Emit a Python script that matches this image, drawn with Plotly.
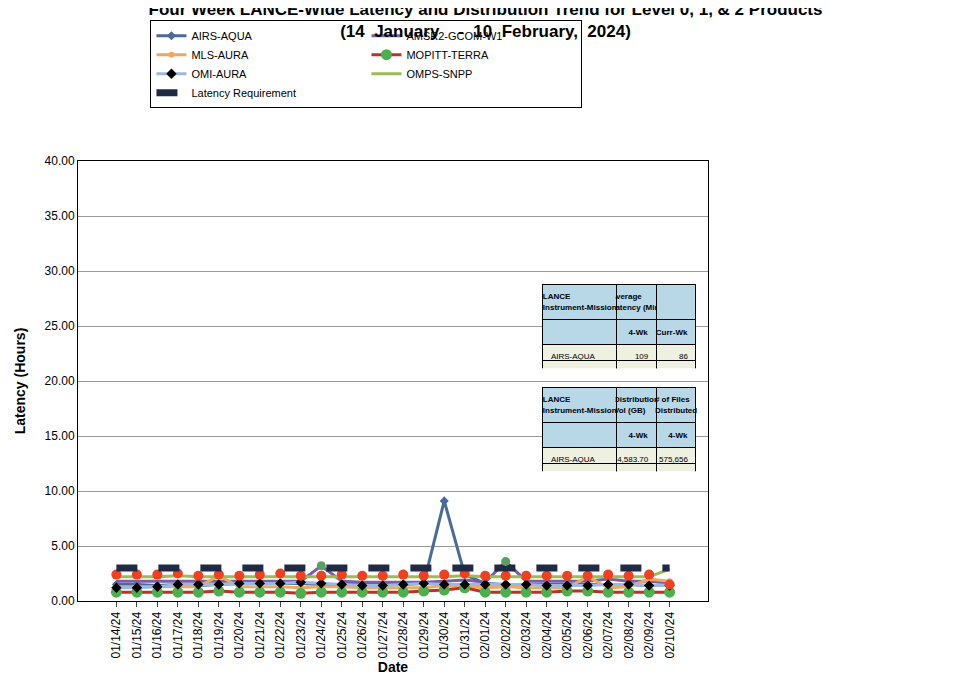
import plotly.graph_objects as go

dates = ["01/14/24","01/15/24","01/16/24","01/17/24","01/18/24","01/19/24","01/20/24","01/21/24","01/22/24","01/23/24","01/24/24","01/25/24","01/26/24","01/27/24","01/28/24","01/29/24","01/30/24","01/31/24","02/01/24","02/02/24","02/03/24","02/04/24","02/05/24","02/06/24","02/07/24","02/08/24","02/09/24","02/10/24"]
airs = [1.5,1.5,1.4,1.5,1.4,1.5,1.6,1.6,1.6,1.6,1.5,1.5,1.5,1.5,1.5,1.6,9.1,2.4,1.6,1.5,1.5,1.5,1.5,1.5,1.5,1.5,1.4,1.5]
amsr2 = [1.8,1.8,1.8,1.8,1.8,1.8,1.8,1.8,1.8,1.8,3.2,1.8,1.7,1.7,1.7,1.7,1.8,1.9,1.7,3.6,1.8,1.8,1.8,1.8,2.0,1.8,1.8,1.7]
mls = [1.3,1.3,1.3,1.3,1.3,2.3,1.3,1.3,1.3,1.2,1.3,1.3,1.2,1.2,1.2,1.2,1.4,1.3,1.2,1.3,1.2,1.2,1.2,2.2,1.2,1.3,2.0,1.8]
mopitt = [0.8,0.8,0.8,0.8,0.8,0.9,0.8,0.8,0.8,0.7,0.8,0.8,0.8,0.8,0.8,0.9,1.0,1.2,0.8,0.8,0.8,0.8,0.9,0.9,0.8,0.8,0.8,0.8]
omi = [1.2,1.2,1.3,1.5,1.5,1.5,1.6,1.6,1.6,1.7,1.6,1.5,1.4,1.4,1.5,1.6,1.5,1.5,1.5,1.5,1.5,1.4,1.4,1.4,1.5,1.5,1.4,1.4]
omps = [2.4,2.4,2.4,2.5,2.3,2.4,2.3,2.4,2.5,2.3,2.3,2.4,2.3,2.3,2.4,2.3,2.4,2.5,2.3,2.3,2.3,2.3,2.3,2.3,2.4,2.3,2.4,1.5]
omps_line = [2.2,2.2,2.2,2.3,2.2,2.2,2.2,2.2,2.2,2.2,2.2,2.2,2.2,2.2,2.2,2.2,2.2,2.3,2.2,2.2,2.2,2.2,2.2,2.2,2.2,2.2,2.2,2.9]
requirement = [3.0]*28

instruments = ["AIRS-AQUA","AMSR2-GCOM-W1","MLS-AURA","MOPITT-TERRA","OMI-AURA","OMPS-SNPP"]
lat_4wk = ["109","115","88","50","93","138"]
lat_curr = ["86","116","104","52","90","140"]
dist_vol = ["4,583.70","168.10","11.15","15,250.34","1,116.70","4.25"]
n_files = ["575,656","308,298","46,535","1,763,036","728,932","488"]

fig = go.Figure()
fig.add_trace(go.Scatter(x=dates, y=airs, name="AIRS-AQUA", mode="lines+markers",
    line=dict(color="#4a6a9a", width=3), marker=dict(symbol="diamond", size=7, color="#4a6a9a")))
fig.add_trace(go.Scatter(x=dates, y=amsr2, name="AMSR2-GCOM-W1", mode="lines",
    line=dict(color="#7b5ea8", width=3)))
fig.add_trace(go.Scatter(x=dates, y=mls, name="MLS-AURA", mode="lines+markers",
    line=dict(color="#f0a860", width=3), marker=dict(size=6, color="#f0a860")))
fig.add_trace(go.Scatter(x=dates, y=mopitt, name="MOPITT-TERRA", mode="lines+markers",
    line=dict(color="#c0302a", width=3), marker=dict(size=11, color="#4caf50")))
fig.add_trace(go.Scatter(x=dates, y=omi, name="OMI-AURA", mode="lines+markers",
    line=dict(color="#9ab8e0", width=3), marker=dict(symbol="diamond", size=8, color="black")))
fig.add_trace(go.Scatter(x=dates, y=omps_line, name="OMPS-SNPP", mode="lines",
    line=dict(color="#9bbb59", width=3), legendgroup="omps"))
fig.add_trace(go.Scatter(x=dates, y=omps, name="OMPS-SNPP", mode="markers",
    marker=dict(size=10, color="#f04020"), showlegend=False, legendgroup="omps"))
fig.add_trace(go.Scatter(x=dates, y=requirement, name="Latency Requirement", mode="lines",
    line=dict(color="#1f2a44", width=7, dash="dash")))
fig.add_trace(go.Scatter(x=[dates[10], dates[19]], y=[amsr2[10], amsr2[19]], mode="markers",
    marker=dict(size=9, color="#5aa060"), showlegend=False))

hdr_fill = "#b8d8e8"
cell_fill = "#eef0e0"
fills = [[hdr_fill]+[cell_fill]*6]*3
fig.add_trace(go.Table(
    domain=dict(x=[0.738, 0.982], y=[0.528, 0.72]),
    columnwidth=[1.3, 0.7, 0.7],
    header=dict(values=["<b>LANCE<br>Instrument-Mission</b>", "<b>Average<br>Latency (Min)</b>", ""],
                fill_color=hdr_fill, line_color="black", font=dict(size=8, family="Liberation Sans"), height=26, align="center"),
    cells=dict(values=[[""]+instruments, ["<b>4-Wk</b>"]+lat_4wk, ["<b>Curr-Wk</b>"]+lat_curr],
               fill_color=fills, line_color="black", align=["left", "right", "right"],
               font=dict(size=8, family="Liberation Sans"), height=16)))
fig.add_trace(go.Table(
    domain=dict(x=[0.738, 0.982], y=[0.295, 0.486]),
    columnwidth=[1.3, 0.7, 0.7],
    header=dict(values=["<b>LANCE<br>Instrument-Mission</b>", "<b>Distribution<br>Vol (GB)</b>", "<b># of Files<br>Distributed</b>"],
                fill_color=hdr_fill, line_color="black", font=dict(size=8, family="Liberation Sans"), height=26, align="center"),
    cells=dict(values=[[""]+instruments, ["<b>4-Wk</b>"]+dist_vol, ["<b>4-Wk</b>"]+n_files],
               fill_color=fills, line_color="black", align=["left", "right", "right"],
               font=dict(size=8, family="Liberation Sans"), height=16)))

fig.update_layout(
    width=955, height=683, paper_bgcolor="white", plot_bgcolor="white",
    margin=dict(l=68, r=255, t=115, b=90),
    font=dict(family="Liberation Sans", color="black"),
    title=dict(text="<b>Four Week LANCE-Wide Latency and Distribution Trend for Level 0, 1, & 2 Products</b><br><b>(14  January    -  10  February,  2024)</b>",
               x=0.5, xanchor="center", y=0.99, yanchor="top", font=dict(size=17)),
    legend=dict(orientation="h", x=0.115, y=1.12, xanchor="left", yanchor="bottom",
                bordercolor="black", borderwidth=1, font=dict(size=11), entrywidth=170,
                traceorder="normal"),
    xaxis=dict(title=dict(text="<b>Date</b>", font=dict(size=14), standoff=4), tickangle=-90,
               showline=True, linecolor="black", mirror=True, ticks="outside", tickfont=dict(size=12),
               showgrid=False),
    yaxis=dict(title=dict(text="<b>Latency (Hours)</b>", font=dict(size=14)), range=[0, 40], dtick=5,
               tickformat=".2f", showline=True, linecolor="black", mirror=True, gridcolor="#999",
               tickfont=dict(size=12)),
)
fig.write_html("out.html")
